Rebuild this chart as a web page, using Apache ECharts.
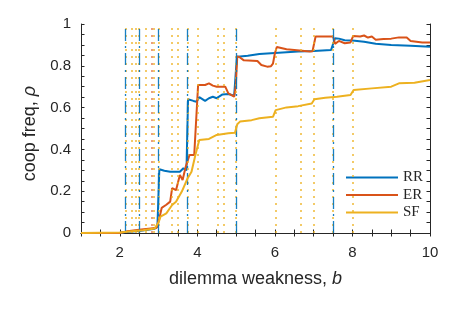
<!DOCTYPE html>
<html>
<head>
<meta charset="utf-8">
<script src="https://cdn.jsdelivr.net/npm/echarts@6/dist/echarts.min.js"></script>
<style>
html,body{margin:0;padding:0;background:#fff;}
#c{width:457px;height:309px;}
</style>
</head>
<body>
<div id="c"></div>
<script>
// ---- data ----
var seriesNames = ['RR', 'ER', 'SF'];
var rrData = [[1,0],[2,0],[2.15,0.005],[2.5,0.01],[2.9,0.02],[2.97,0.03],[3.02,0.305],[3.15,0.298],[3.3,0.293],[3.55,0.293],[3.64,0.31],[3.72,0.30],[3.76,0.64],[3.81,0.636],[3.9,0.632],[3.98,0.628],[4.05,0.65],[4.2,0.632],[4.3,0.645],[4.4,0.652],[4.5,0.645],[4.65,0.663],[4.8,0.665],[4.95,0.657],[5.02,0.843],[5.1,0.845],[5.3,0.848],[5.6,0.856],[5.9,0.86],[6.3,0.865],[6.6,0.868],[7.0,0.871],[7.45,0.876],[7.5,0.88],[7.55,0.932],[7.65,0.93],[7.8,0.922],[8.0,0.921],[8.3,0.915],[8.6,0.905],[9.0,0.9],[9.5,0.896],[10,0.891]];
var erData = [[1,0],[2,0],[2.2,0.008],[2.5,0.015],[2.8,0.022],[2.95,0.025],[3.02,0.07],[3.08,0.12],[3.2,0.135],[3.3,0.15],[3.35,0.215],[3.45,0.205],[3.55,0.278],[3.62,0.254],[3.7,0.317],[3.75,0.32],[3.8,0.373],[3.92,0.373],[3.97,0.38],[4.02,0.708],[4.2,0.708],[4.3,0.716],[4.4,0.705],[4.5,0.7],[4.65,0.7],[4.72,0.7],[4.8,0.668],[4.95,0.652],[4.99,0.7],[5.03,0.845],[5.1,0.84],[5.2,0.826],[5.55,0.823],[5.65,0.804],[5.8,0.796],[5.9,0.798],[5.95,0.81],[6.0,0.86],[6.05,0.89],[6.3,0.879],[6.5,0.876],[6.7,0.872],[6.9,0.868],[6.97,0.87],[7.05,0.94],[7.5,0.94],[7.55,0.905],[7.65,0.919],[7.8,0.908],[7.95,0.912],[8.02,0.943],[8.2,0.94],[8.3,0.945],[8.4,0.935],[8.5,0.94],[8.6,0.925],[8.8,0.928],[9.0,0.93],[9.2,0.936],[9.4,0.935],[9.5,0.919],[9.8,0.912],[10,0.912]];
var sfData = [[1,0],[2,0.002],[2.3,0.008],[2.6,0.013],[2.9,0.022],[3.0,0.05],[3.05,0.078],[3.2,0.094],[3.35,0.134],[3.45,0.15],[3.6,0.198],[3.75,0.262],[3.85,0.293],[3.95,0.373],[4.05,0.445],[4.3,0.45],[4.5,0.469],[4.8,0.477],[4.97,0.48],[5.03,0.52],[5.1,0.533],[5.4,0.54],[5.6,0.549],[5.95,0.556],[6.02,0.588],[6.3,0.601],[6.6,0.607],[6.95,0.62],[7.02,0.64],[7.3,0.647],[7.6,0.652],[7.95,0.66],[8.03,0.684],[8.5,0.692],[9.0,0.70],[9.2,0.716],[9.6,0.719],[10,0.732]];
var rrLines = [2.15, 2.5, 3.0, 3.75, 5.0, 7.5];
var erLines = [2.83];
var sfLines = [2.15, 2.31, 2.41, 2.5, 2.68, 2.87, 3.0, 3.34, 3.5, 3.75, 4.01, 4.52, 4.67, 5.0, 6.01, 6.67, 7.0, 7.5, 8.01];
var xLabels = [2, 4, 6, 8, 10];
var yLabels = [0, 0.2, 0.4, 0.6, 0.8, 1];

// ---- styles ----
var C = ['#0072BD', '#D95319', '#EDB120'];
var AX = '#262626';
var FONT = "'Liberation Sans', Arial, Helvetica, sans-serif";

function vlines(vals, color, type, op, w) {
  return {
    type: 'line', data: [], silent: true, z: 1,
    markLine: {
      silent: true, symbol: ['none', 'none'], animation: false,
      label: {show: false},
      lineStyle: {color: color, type: type, width: w, opacity: op},
      data: vals.map(function (v) { return {xAxis: v}; })
    }
  };
}

function tickAxis(base) {
  return Object.assign({
    type: 'value',
    axisLine: {show: true, lineStyle: {color: AX, width: 1}},
    axisTick: {show: true, inside: true, length: 3.5, lineStyle: {color: AX}},
    splitLine: {show: false}
  }, base);
}

var chart = echarts.init(document.getElementById('c'));
chart.setOption({
  animation: false,
  backgroundColor: '#fff',
  grid: {left: 81, right: 27, top: 24, bottom: 76},
  legend: {
    data: seriesNames, orient: 'vertical', left: 346, top: 170,
    padding: 0, itemGap: 2.5, itemWidth: 52, itemHeight: 2, icon: 'rect',
    textStyle: {fontFamily: "'Liberation Serif', 'Times New Roman', serif", fontSize: 15, lineHeight: 15, color: AX}
  },
  xAxis: [
    tickAxis({
      min: 1, max: 10, interval: 0.5, position: 'bottom',
      name: 'dilemma weakness, {i|b}', nameLocation: 'middle', nameGap: 37,
      nameTextStyle: {fontFamily: FONT, fontSize: 18, color: AX,
        rich: {i: {fontFamily: FONT, fontSize: 18, fontStyle: 'italic', color: AX}}},
      axisLabel: {
        margin: 12, fontFamily: FONT, fontSize: 15, color: AX,
        formatter: function (v) {
          for (var i = 0; i < xLabels.length; i++) if (Math.abs(v - xLabels[i]) < 1e-6) return String(xLabels[i]);
          return '';
        }
      }
    }),
    tickAxis({min: 1, max: 10, interval: 0.5, position: 'top', axisLabel: {show: false}})
  ],
  yAxis: [
    tickAxis({
      min: 0, max: 1, interval: 0.05, position: 'left',
      name: 'coop freq, {i|ρ}', nameLocation: 'middle', nameGap: 34,
      nameTextStyle: {fontFamily: FONT, fontSize: 18, color: AX, padding: [0, 10, 0, 0],
        rich: {i: {fontFamily: FONT, fontSize: 18, fontStyle: 'italic', color: AX}}},
      axisLabel: {
        margin: 10, fontFamily: FONT, fontSize: 15, color: AX,
        formatter: function (v) {
          for (var i = 0; i < yLabels.length; i++) if (Math.abs(v - yLabels[i]) < 1e-6) return String(yLabels[i]);
          return '';
        }
      }
    }),
    tickAxis({min: 0, max: 1, interval: 0.05, position: 'right', axisLabel: {show: false}})
  ],
  series: [
    vlines(sfLines, C[2], [2, 5], 0.9, 1.5),
    vlines(erLines, C[1], [2, 5], 0.75, 1.5),
    vlines(rrLines, C[0], [12, 5, 2, 5], 0.9, 1.3),
    {name: 'RR', type: 'line', data: rrData, showSymbol: false, symbol: 'none', z: 3, color: C[0], lineStyle: {width: 2, color: C[0]}},
    {name: 'ER', type: 'line', data: erData, showSymbol: false, symbol: 'none', z: 4, color: C[1], lineStyle: {width: 2, color: C[1]}},
    {name: 'SF', type: 'line', data: sfData, showSymbol: false, symbol: 'none', z: 5, color: C[2], lineStyle: {width: 2, color: C[2]}}
  ]
});
</script>
</body>
</html>
